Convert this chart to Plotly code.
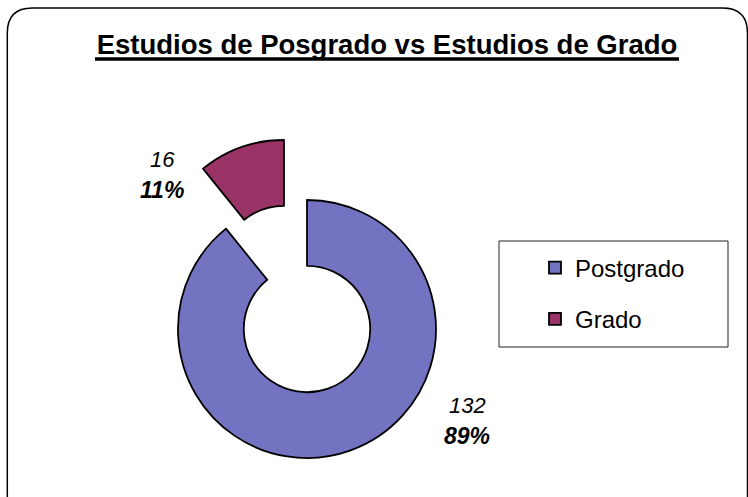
import plotly.graph_objects as go

# ---- data ----
categories = ["Postgrado", "Grado"]
values = [132, 16]
title_text = "Estudios de Posgrado vs Estudios de Grado"

# ---- styles ----
W, H = 748, 497
FONT = "Liberation Sans, Arial, sans-serif"
colors = ["#7373c2", "#993366"]
clear = "rgba(0,0,0,0)"
total = sum(values)
pcts = [round(100 * v / total) for v in values]


def px_dom(x0, x1, y0, y1):
    return dict(x=[x0 / W, x1 / W], y=[1 - y1 / H, 1 - y0 / H])


fig = go.Figure()

# main ring (Postgrado slice visible)
fig.add_trace(go.Pie(
    labels=categories, values=values, sort=False, direction="clockwise",
    rotation=0, hole=0.49, textinfo="none", hoverinfo="label+value+percent",
    marker=dict(colors=[colors[0], clear], line=dict(color=["black", clear], width=[1.8, 0])),
    domain=px_dom(307 - 129, 307 + 129, 329 - 129, 329 + 129),
    showlegend=False,
))
# exploded slice (Grado)
fig.add_trace(go.Pie(
    labels=categories, values=values, sort=False, direction="clockwise",
    rotation=0, hole=0.49, textinfo="none", hoverinfo="label+value+percent",
    marker=dict(colors=[clear, colors[1]], line=dict(color=[clear, "black"], width=[0, 1.8])),
    domain=px_dom(284 - 129, 284 + 129, 269 - 129, 269 + 129),
    showlegend=False,
))

# legend entries
for i, c in enumerate(categories):
    fig.add_trace(go.Scatter(
        x=[None], y=[None], mode="markers", name=c, legendgroup=c,
        marker=dict(symbol="square", size=12, color=colors[i], line=dict(color="black", width=1.8)),
    ))

# data labels
label_pos = [(467, 405, 436), (162, 159, 190)]
annotations = []
for i, (x, y1, y2) in enumerate(label_pos):
    annotations.append(dict(x=x / W, y=1 - y1 / H, xref="paper", yref="paper",
                            text=f"<i>{values[i]}</i>", showarrow=False,
                            font=dict(family=FONT, size=22, color="black"),
                            xanchor="center", yanchor="middle"))
    annotations.append(dict(x=x / W, y=1 - y2 / H, xref="paper", yref="paper",
                            text=f"<b><i>{pcts[i]}%</i></b>", showarrow=False,
                            font=dict(family=FONT, size=23, color="black"),
                            xanchor="center", yanchor="middle"))


def to_paper_path(path):
    out = []
    for tok in path.split():
        if "," in tok:
            a, b = tok.split(",")
            out.append(f"{float(a) / W:.5f},{1 - float(b) / H:.5f}")
        else:
            out.append(tok)
    return " ".join(out)


r = 25
x0, y0, x1, y1 = 7.3, 8, 747.5, 520
frame = (f"M {x0},{y0 + r} Q {x0},{y0} {x0 + r},{y0} L {x1 - r},{y0} "
         f"Q {x1},{y0} {x1},{y0 + r} L {x1},{y1} L {x0},{y1} Z")

shapes = [
    dict(type="path", xref="paper", yref="paper", path=to_paper_path(frame),
         line=dict(color="black", width=1.5)),
    dict(type="rect", xref="paper", yref="paper",
         x0=499 / W, x1=728 / W, y0=1 - 347 / H, y1=1 - 241 / H,
         line=dict(color="#222222", width=1)),
    dict(type="line", xref="paper", yref="paper",
         x0=95 / W, x1=679 / W, y0=1 - 59 / H, y1=1 - 59 / H,
         line=dict(color="black", width=3.5)),
]

fig.update_layout(
    width=W, height=H,
    margin=dict(l=0, r=0, t=0, b=0),
    paper_bgcolor="white", plot_bgcolor="white",
    title=dict(text=f"<b>{title_text}</b>", x=387 / W, xanchor="center",
               y=1 - 44 / H, yanchor="middle",
               font=dict(family=FONT, size=27.5, color="black")),
    xaxis=dict(visible=False), yaxis=dict(visible=False),
    legend=dict(x=535 / W, xanchor="left", y=1 - 245.5 / H, yanchor="top",
                font=dict(family=FONT, size=24, color="black"),
                bgcolor=clear, borderwidth=0, traceorder="grouped",
                tracegroupgap=17),
    annotations=annotations,
    shapes=shapes,
)

fig.write_html("out.html", config={"displayModeBar": False},
               post_script="document.body.style.margin='0';")
